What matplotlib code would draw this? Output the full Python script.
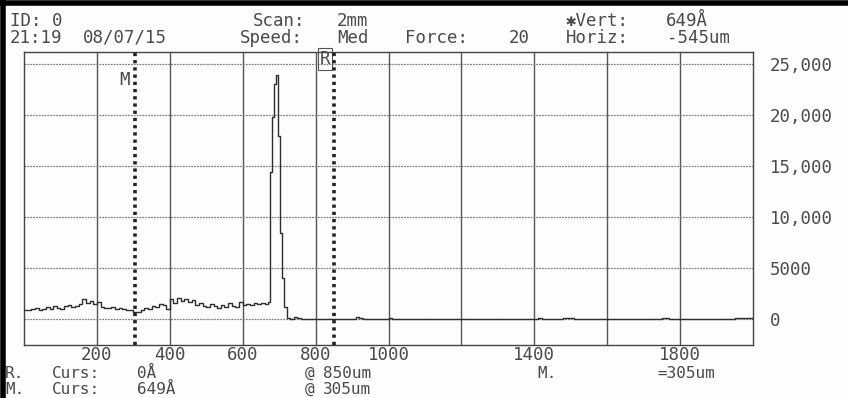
import matplotlib.pyplot as plt
from matplotlib.lines import Line2D

# profile (scan position in um, height in Angstrom)
POS_UM = [0, 10, 20, 30, 40, 50, 60, 70, 80, 90, 100, 110, 120, 130, 140, 150, 160, 170, 180, 190,
          200, 210, 220, 230, 240, 250, 260, 270, 280, 290, 300, 310, 320, 330, 340, 350, 360, 370,
          380, 390, 400, 410, 420, 430, 440, 450, 460, 470, 480, 490, 500, 510, 520, 530, 540, 550,
          560, 570, 580, 590, 600, 610, 620, 630, 640, 650, 660, 670,
          675, 681, 686, 691, 698, 702, 709, 714, 721,
          730, 740, 750, 760, 900, 910, 920, 930, 1000, 1010, 1400, 1410, 1420, 1480, 1500, 1510,
          1750, 1770, 1950, 1990, 2000]
HEIGHT_A = [900, 850, 950, 1100, 900, 1000, 1200, 1000, 1300, 1100, 950, 1250, 1400, 1150, 1300, 1500,
            2000, 1600, 1800, 1500, 1700, 1200, 1100, 1050, 1150, 1000, 1100, 950, 850, 900, 650, 700,
            900, 1100, 1000, 1300, 1200, 1500, 1400, 1000, 2000, 1600, 2100, 1800, 2000, 1700, 1900,
            1400, 1600, 1300, 1200, 1500, 1300, 1100, 1400, 1200, 1600, 1300, 1200, 1700, 1400, 1500,
            1400, 1600, 1500, 1600, 1500, 1700,
            14400, 19800, 23100, 23900, 18000, 8400, 4000, 1200, 100,
            0, 200, 100, 0, 0, 150, 100, 0, 100, 0, 0, 100, 0, 100, 100, 0,
            100, 0, 100, 100, 0]

X_TICKS = [200, 400, 600, 800, 1000, 1200, 1400, 1600, 1800]
X_LABELS = ['200', '400', '600', '800', '1000', '', '1400', '', '1800']
Y_TICKS = [0, 5000, 10000, 15000, 20000, 25000]
Y_LABELS = ['0', '5000', '10,000', '15,000', '20,000', '25,000']

M_CURSOR = 305
R_CURSOR = 850

W, H = 848, 398
FONT = 'DejaVu Sans Mono'
INK = '#4a4a4a'
FS = 12.5
FS_FOOT = 11.5


def px_text(fig, x, y, s, size=FS, **kw):
    fig.text(x / W, 1 - y / H, s, family=FONT, fontsize=size, color=INK, va='center', ha='left', **kw)


fig = plt.figure(figsize=(W / 100, H / 100), dpi=100, facecolor='#fdfdfb')
ax = fig.add_axes([24 / W, 1 - 345 / H, (753 - 24) / W, (345 - 52) / H])
ax.set_facecolor('#fdfdfb')

ax.set_xlim(0, 2000)
ax.set_ylim(-2550, 26200)

for xv in X_TICKS:
    ax.axvline(xv, color='#555555', linewidth=1.0, zorder=1)
for yv in Y_TICKS:
    ax.axhline(yv, color='#808080', linewidth=0.9, linestyle=(0, (1.5, 0.8)), zorder=1)

ax.plot(POS_UM, HEIGHT_A, drawstyle='steps-post', color='#2e2e2e', linewidth=1.0, zorder=3)

# cursors
for cx in (M_CURSOR, R_CURSOR):
    ax.axvline(cx, color='#222222', linewidth=2.6, linestyle=(0, (0.9, 1.1)), zorder=4)
ax.text(M_CURSOR - 16, 23500, 'M', family=FONT, fontsize=FS, color=INK, ha='right', va='center')
ax.text(R_CURSOR - 10, 25500, 'R', family=FONT, fontsize=FS, color=INK, ha='right', va='center',
        bbox=dict(boxstyle='square,pad=0.1', facecolor='none', edgecolor='#555555', linewidth=0.8))

ax.set_xticks(X_TICKS)
ax.set_xticklabels(X_LABELS, family=FONT, fontsize=FS, color=INK)
ax.set_yticks(Y_TICKS)
ax.set_yticklabels(Y_LABELS, family=FONT, fontsize=FS, color=INK)
ax.yaxis.tick_right()
ax.tick_params(axis='both', length=0)
ax.tick_params(axis='x', pad=1)
ax.tick_params(axis='y', pad=12)
for side in ax.spines.values():
    side.set_color('#444444')
    side.set_linewidth(1.0)

# header
px_text(fig, 10, 21, 'ID: 0')
px_text(fig, 253, 21, 'Scan:')
px_text(fig, 337, 21, '2mm')
px_text(fig, 566, 21, '\u2731Vert:')
px_text(fig, 666, 21, '649Å')
px_text(fig, 10, 38, '21:19')
px_text(fig, 83, 38, '08/07/15')
px_text(fig, 240, 38, 'Speed:')
px_text(fig, 337, 38, 'Med')
px_text(fig, 405, 38, 'Force:')
px_text(fig, 509, 38, '20')
px_text(fig, 566, 38, 'Horiz:')
px_text(fig, 667, 38, '-545um')

# footer
px_text(fig, 5, 373, 'R.', FS_FOOT)
px_text(fig, 52, 373, 'Curs:', FS_FOOT)
px_text(fig, 137, 373, '0Å', FS_FOOT)
px_text(fig, 305, 373, '@', FS_FOOT)
px_text(fig, 323, 373, '850um', FS_FOOT)
px_text(fig, 5, 389, 'M.', FS_FOOT)
px_text(fig, 52, 389, 'Curs:', FS_FOOT)
px_text(fig, 137, 389, '649Å', FS_FOOT)
px_text(fig, 305, 389, '@', FS_FOOT)
px_text(fig, 323, 389, '305um', FS_FOOT)
px_text(fig, 537, 373, 'M.', FS_FOOT)
px_text(fig, 657, 373, '=305um', FS_FOOT)

# scan frame on the left and top
fig.add_artist(Line2D([2.5 / W, 2.5 / W], [0, 1], color='black', linewidth=4))
fig.add_artist(Line2D([0, 1], [1 - 2.5 / H, 1 - 2.5 / H], color='black', linewidth=4))

fig.savefig('out.png', dpi=100, facecolor=fig.get_facecolor())
